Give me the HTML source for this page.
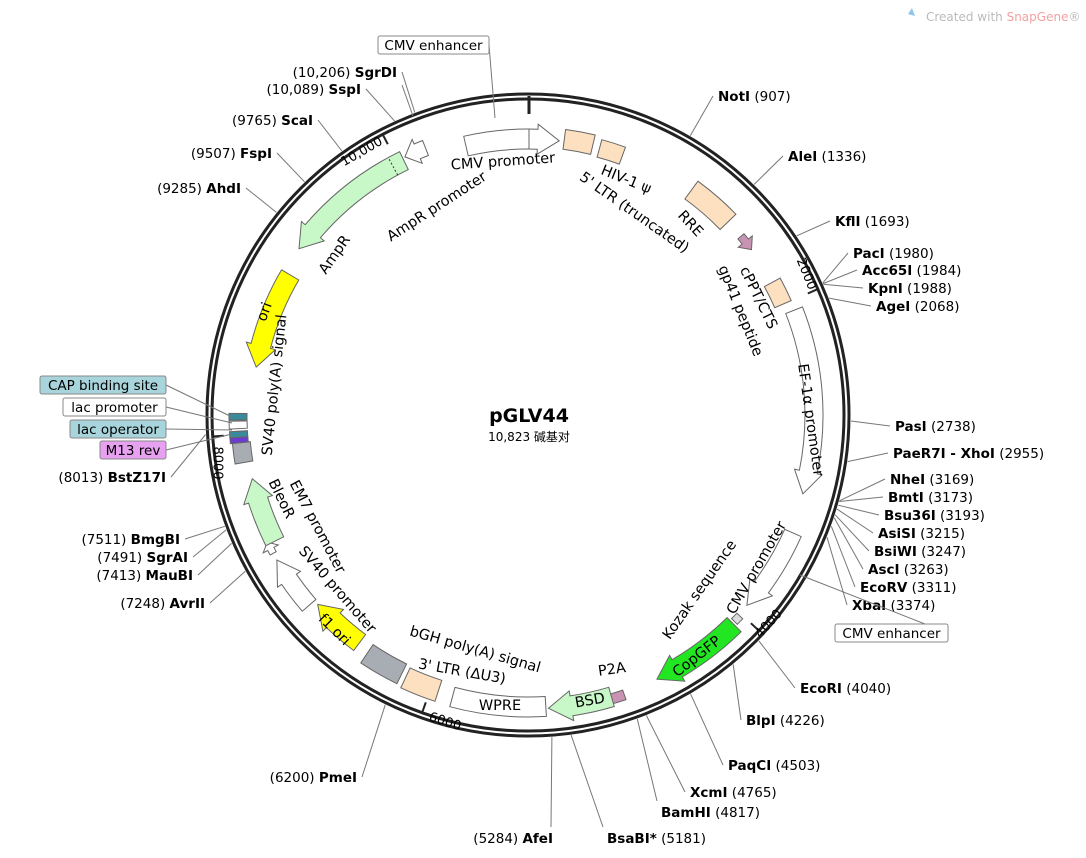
<!DOCTYPE html>
<html><head><meta charset="utf-8"><style>
html,body{margin:0;padding:0;background:#fff}
svg{display:block;font-family:"DejaVu Sans","Liberation Sans","Noto Sans CJK SC",sans-serif}
.s{font-size:13.5px}
.b{font-weight:bold}
.f{font-size:14.5px}
</style></head><body>
<svg id="m" width="1086" height="858" viewBox="0 0 1086 858" xmlns="http://www.w3.org/2000/svg">
<text x="926" y="21" font-size="12" fill="#bbb">Created with <tspan fill="#f4a0a0">SnapGene</tspan>®</text>
<path d="M908 14 l4 -6 l3 8 z" fill="#8fc6e8"/>
</svg>
<script>
var cx=528,cy=415,R=321;
var s='';
function P(a,r){var t=a*Math.PI/180;return [(cx+r*Math.sin(t)).toFixed(1),(cy-r*Math.cos(t)).toFixed(1)];}
function J(p){return p[0]+' '+p[1];}
function deg(bp){return bp*360/10823;}
s+='<circle cx="'+cx+'" cy="'+cy+'" r="'+R+'" fill="none" stroke="#222" stroke-width="3"/>';
s+='<circle cx="'+cx+'" cy="'+cy+'" r="'+(R-5)+'" fill="none" stroke="#222" stroke-width="3"/>';
s+='<line x1="529" y1="96" x2="529" y2="114" stroke="#222" stroke-width="3"/>';
[[2000,'2000',806,274,68],[4000,'4000',769,624,-48],[6000,'6000',445,722,18],[8000,'8000',217,463,90],[10000,'10,000',362,152,-30]].forEach(function(t){
 var a=deg(t[0]);var p1=P(a,R-5),p2=P(a,R-16);
 s+='<line x1="'+p1[0]+'" y1="'+p1[1]+'" x2="'+p2[0]+'" y2="'+p2[1]+'" stroke="#222" stroke-width="2"/>';
 s+='<text x="'+t[2]+'" y="'+t[3]+'" font-size="13" text-anchor="middle" dominant-baseline="middle" transform="rotate('+t[4]+' '+t[2]+' '+t[3]+')">'+t[1]+'</text>';
});
function feat(a1,a2,r,w,fill,dir){
 var ro=r+w/2,ri=r-w/2,h=Math.min(4.5,(a2-a1)*0.6),d;
 var L=(a2-a1)>180?1:0;
 if(dir==0){d='M'+J(P(a1,ro))+' A'+ro+' '+ro+' 0 '+L+' 1 '+J(P(a2,ro))+' L'+J(P(a2,ri))+' A'+ri+' '+ri+' 0 '+L+' 0 '+J(P(a1,ri))+' Z';}
 else if(dir==1){var b=a2-h;d='M'+J(P(a1,ro))+' A'+ro+' '+ro+' 0 0 1 '+J(P(b,ro))+' L'+J(P(b,ro+5))+' L'+J(P(a2,r))+' L'+J(P(b,ri-5))+' L'+J(P(b,ri))+' A'+ri+' '+ri+' 0 0 0 '+J(P(a1,ri))+' Z';}
 else {var b=a1+h;d='M'+J(P(a1,r))+' L'+J(P(b,ro+5))+' L'+J(P(b,ro))+' A'+ro+' '+ro+' 0 0 1 '+J(P(a2,ro))+' L'+J(P(a2,ri))+' A'+ri+' '+ri+' 0 0 0 '+J(P(b,ri))+' L'+J(P(b,ri-5))+' Z';}
 s+='<path d="'+d+'" fill="'+fill+'" stroke="#666" stroke-width="1"/>';
}
var PE='#fde0c0',LG='#c8f8c8',W='#fff';
feat(-13,6.5,276,20,W,1);
s+='<line x1="529" y1="'+(cy-286)+'" x2="529" y2="'+(cy-266)+'" stroke="#666"/>';
feat(7.5,13.5,278,20,PE,0);
feat(15,20,276,18,PE,0);
feat(36,46,278,22,PE,0);
feat(50,53.5,278,8,'#c994b4',1);
feat(61.5,66.5,278,18,PE,0);
feat(68.5,106,286,18,W,1);
feat(114,131,290,18,W,1);
feat(133.5,135,292,8,'#ddd',0);
feat(135.5,154,294,20,'#22e622',1);
feat(161,164,296,10,'#c994b4',0);
feat(163.5,176,294,20,LG,1);
feat(176.5,195,292,20,W,0);
feat(198,205,290,22,PE,0);
feat(206,214,288,22,'#a8adb4',0);
feat(216.5,228,283,20,'#ffff00',1);
feat(229,240,290,18,W,1);
feat(241.5,244,290,7,W,1);
feat(243.5,257,283,20,LG,1);
feat(260.5,264.5,288,18,'#a8adb4',0);
feat(264.5,265.6,290,18,'#6a3cd0',0);
feat(265.6,266.8,290,18,'#3a8a9a',0);
feat(267.3,268.8,290,18,'#fff',0);
feat(269,270.3,290,18,'#3a8a9a',0);
feat(280,300.5,276,20,'#ffff00',-1);
feat(306,334,283,20,LG,-1);
var dp1=P(331.5,273),dp2=P(331.5,293);
s+='<line x1="'+dp1[0]+'" y1="'+dp1[1]+'" x2="'+dp2[0]+'" y2="'+dp2[1]+'" stroke="#333" stroke-dasharray="2,2"/>';
feat(334.5,339,286,16,W,-1);
var sites=[
[907,718,101,'NotI','(907)',0],[1336,788,161,'AleI','(1336)',0],[1693,835,226,'KflI','(1693)',0],
[1980,853,258,'PacI','(1980)',0],[1984,862,275,'Acc65I','(1984)',0],[1988,868,293,'KpnI','(1988)',0],
[2068,876,311,'AgeI','(2068)',0],[2738,895,431,'PasI','(2738)',0],[2955,893,458,'PaeR7I - XhoI','(2955)',0],
[3169,890,484,'NheI','(3169)',0],[3173,888,502,'BmtI','(3173)',0],[3193,884,520,'Bsu36I','(3193)',0],
[3215,878,538,'AsiSI','(3215)',0],[3247,874,556,'BsiWI','(3247)',0],[3263,868,574,'AscI','(3263)',0],
[3311,860,592,'EcoRV','(3311)',0],[3374,852,610,'XbaI','(3374)',0],[4040,800,693,'EcoRI','(4040)',0],
[4226,746,725,'BlpI','(4226)',0],[4503,728,770,'PaqCI','(4503)',0],[4765,690,797,'XcmI','(4765)',0],
[4817,661,817,'BamHI','(4817)',0],[5181,607,843,'BsaBI*','(5181)',0],
[5284,553,843,'AfeI','(5284)',1],[6200,357,782,'PmeI','(6200)',1],[7248,205,608,'AvrII','(7248)',1],
[7413,193,580,'MauBI','(7413)',1],[7491,188,562,'SgrAI','(7491)',1],[7511,180,544,'BmgBI','(7511)',1],
[8013,166,482,'BstZ17I','(8013)',1],[9285,241,193,'AhdI','(9285)',1],[9507,272,158,'FspI','(9507)',1],
[9765,313,125,'ScaI','(9765)',1],[10089,361,94,'SspI','(10,089)',1],[10206,397,77,'SgrDI','(10,206)',1]];
sites.forEach(function(t){
 var a=deg(t[0]),p=P(a,R+2);
 var ex=t[5]?t[1]+5:t[1]-5,ey=t[2]-5;
 if(t[2]>800){ex=t[5]?t[1]-2:t[1]-4;ey=t[2]-16;}
 s+='<line x1="'+p[0]+'" y1="'+p[1]+'" x2="'+ex+'" y2="'+ey+'" stroke="#777" stroke-width="1"/>';
 if(t[5]) s+='<text x="'+t[1]+'" y="'+t[2]+'" class="s" text-anchor="end">'+t[4]+'  <tspan class="b">'+t[3]+'</tspan></text>';
 else s+='<text x="'+t[1]+'" y="'+t[2]+'" class="s"><tspan class="b">'+t[3]+'</tspan>  '+t[4]+'</text>';
});
function box(x,y,w,txt,fill,lx,ly){
 s+='<line x1="'+(x+w)+'" y1="'+(y+9)+'" x2="'+lx+'" y2="'+ly+'" stroke="#777"/>';
 s+='<rect x="'+x+'" y="'+y+'" width="'+w+'" height="18" rx="2" fill="'+fill+'" stroke="#888"/>';
 s+='<text x="'+(x+w/2)+'" y="'+(y+14)+'" class="s" text-anchor="middle">'+txt+'</text>';
}
box(40,376,126,'CAP binding site','#a8d4dc',232,417);
box(63,398,103,'lac promoter','#fff',232,423);
box(70,420,96,'lac operator','#a8d4dc',232,430);
box(100,441,66,'M13 rev','#e8a0f0',232,434);
box(378,36,111,'CMV enhancer','#fff',495,118);
box(835,624,113,'CMV enhancer','#fff',800,575);
s+='<line x1="413" y1="116" x2="402" y2="85" stroke="#777"/>';
function lab(x,y,rot,txt){s+='<text x="'+x+'" y="'+y+'" class="f" text-anchor="middle" dominant-baseline="middle" transform="rotate('+rot+' '+x+' '+y+')">'+txt+'</text>';}
lab(503,162,-4,'CMV promoter');
lab(626,180,22,'HIV-1 ψ');
lab(634,213,35,"5' LTR (truncated)");
lab(690,224,47,'RRE');
lab(758,298,64,'cPPT/CTS');
lab(740,311,68,'gp41 peptide');
lab(810,420,82,'EF-1α promoter');
lab(757,568,-60,'CMV promoter');
lab(700,590,-55,'Kozak sequence');
lab(697,657,-38,'CopGFP');
lab(612,670,-8,'P2A');
lab(590,701,-10,'BSD');
lab(500,706,0,'WPRE');
lab(462,672,10,"3' LTR (ΔU3)");
lab(475,650,16,'bGH poly(A) signal');
lab(334,630,45,'f1 ori');
lab(337,590,49,'SV40 promoter');
lab(317,527,62,'EM7 promoter');
lab(281,499,64,'BleoR');
lab(275,385,-84,'SV40 poly(A) signal');
lab(265,312,-70,'ori');
lab(335,255,-55,'AmpR');
lab(437,207,-33,'AmpR promoter');
s+='<text x="529" y="422" font-size="19" font-weight="bold" text-anchor="middle">pGLV44</text>';
s+='<text x="529" y="441" font-size="12" text-anchor="middle">10,823 碱基对</text>';
document.getElementById('m').insertAdjacentHTML('beforeend',s);
</script>
</body></html>
